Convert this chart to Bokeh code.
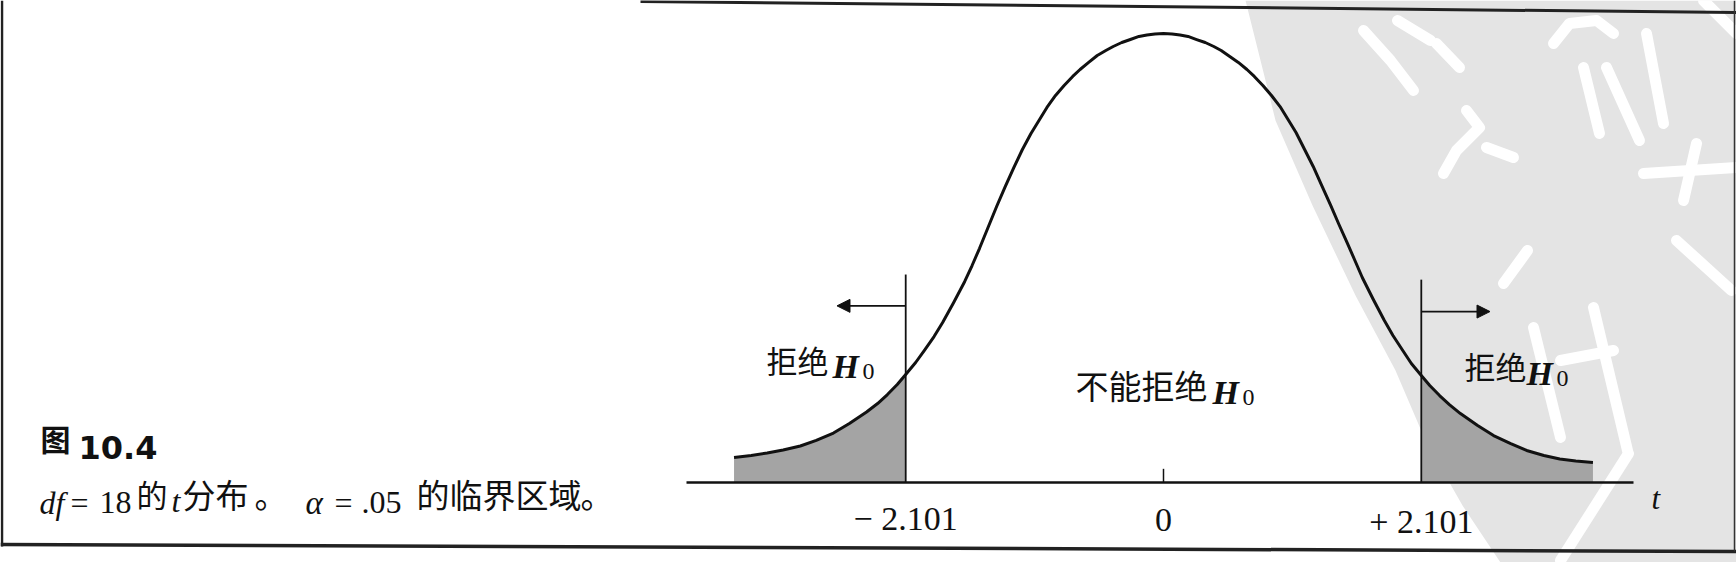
from bokeh.plotting import figure
from bokeh.models import Label, Arrow, NormalHead, Range1d
from bokeh.core.properties import value
from bokeh.embed import file_html
from bokeh.resources import INLINE

# ---- data (t distribution, df = 18) ----
t_left = [-3.50, -3.36, -3.23, -3.10, -2.96, -2.83, -2.69, -2.56, -2.42, -2.33,
          -2.25, -2.17, -2.101, -2.02, -1.95, -1.87, -1.80, -1.71, -1.62, -1.56,
          -1.50, -1.43, -1.36, -1.29, -1.22, -1.15, -1.08, -1.01, -0.95, -0.88,
          -0.81, -0.74, -0.68, -0.61, -0.54, -0.47, -0.41, -0.34, -0.27, -0.20,
          -0.135, -0.07, 0.0]
d_left = [0.0219, 0.0237, 0.0259, 0.0285, 0.0320, 0.0369, 0.0434, 0.0518, 0.0619, 0.0693,
          0.0772, 0.0860, 0.0948, 0.1053, 0.1158, 0.1281, 0.1404, 0.1580, 0.1764, 0.1904,
          0.2053, 0.2238, 0.2422, 0.2597, 0.2764, 0.2922, 0.3062, 0.3185, 0.3291, 0.3396,
          0.3484, 0.3563, 0.3624, 0.3686, 0.3747, 0.3791, 0.3826, 0.3861, 0.3887, 0.3914,
          0.3927, 0.3936, 0.3940]
t_right = [0.07, 0.135, 0.20, 0.27, 0.34, 0.41, 0.47, 0.54, 0.61, 0.68,
           0.74, 0.81, 0.88, 0.95, 1.01, 1.08, 1.15, 1.22, 1.29, 1.36,
           1.43, 1.50, 1.56, 1.62, 1.71, 1.80, 1.87, 1.95, 2.02, 2.101,
           2.17, 2.25, 2.33, 2.42, 2.56, 2.69, 2.83, 2.96, 3.10, 3.23,
           3.36, 3.50]
d_right = [0.3936, 0.3927, 0.3914, 0.3887, 0.3861, 0.3826, 0.3791, 0.3738, 0.3686, 0.3624,
           0.3563, 0.3484, 0.3396, 0.3299, 0.3194, 0.3071, 0.2922, 0.2773, 0.2606, 0.2439,
           0.2264, 0.2097, 0.1948, 0.1799, 0.1606, 0.1422, 0.1290, 0.1158, 0.1044, 0.0939,
           0.0851, 0.0763, 0.0684, 0.0605, 0.0500, 0.0412, 0.0342, 0.0281, 0.0237, 0.0206,
           0.0189, 0.0175]
critical_t = [-2.101, 2.101]
tick_values = [-2.101, 0.0, 2.101]
tick_labels = ["\u2212 2.101", "0", "+ 2.101"]

t_vals = t_left + t_right
density = d_left + d_right

# ---- layout ----
W, H = 1736, 562
PX_T = 122.7      # pixels per t unit
T0 = 1163.0       # page x of t = 0
AX_Y = 482.0      # page y of the axis
PX_D = 1139.6     # pixels per density unit
x0 = -T0 / PX_T
x1 = x0 + W / PX_T
y1 = AX_Y / PX_D
y0 = y1 - H / PX_D


def rx(px):
    return x0 + px / PX_T


def ry(py):
    return (AX_Y - py) / PX_D


SERIF = "Liberation Serif"
CJK = "Noto Sans CJK SC"
INK = "#111111"

p = figure(width=W, height=H, x_range=Range1d(x0, x1), y_range=Range1d(y0, y1),
           output_backend="svg", toolbar_location=None, min_border=0,
           x_axis_location=None, y_axis_location=None,
           background_fill_color="white", border_fill_color="white")
p.grid.visible = False
p.outline_line_color = None

# grey watermark area at the right of the scan, with white brush strokes
wm = [(1245, 0), (1275, 120), (1312, 205), (1355, 295), (1395, 370), (1425, 440),
      (1462, 505), (1500, 562), (1745, 562), (1745, 0)]
p.patch([rx(a) for a, b in wm], [ry(b) for a, b in wm], fill_color="#e4e4e4", line_color=None)
strokes = [
    [(1436, 43), (1459, 67)],
    [(1553, 43), (1569, 23), (1596, 20), (1613, 33)],
    [(1583, 67), (1599, 133)],
    [(1606, 67), (1639, 140)],
    [(1646, 33), (1663, 123)],
    [(1703, 0), (1736, 33)],
    [(1466, 110), (1479, 127), (1456, 150), (1443, 173)],
    [(1486, 147), (1513, 157)],
    [(1643, 173), (1736, 167)],
    [(1696, 143), (1683, 200)],
    [(1363, 30), (1390, 60), (1413, 90)],
    [(1397, 20), (1430, 40)],
    [(1503, 283), (1527, 250)],
    [(1533, 327), (1560, 437)],
    [(1593, 307), (1627, 450)],
    [(1560, 360), (1613, 350)],
    [(1676, 240), (1731, 290)],
    [(1628, 453), (1560, 560)],
]
p.multi_line([[rx(a) for a, b in s] for s in strokes], [[ry(b) for a, b in s] for s in strokes],
             line_color="white", line_width=11, line_cap="round", line_join="round")

# shaded rejection regions
lt = [(t, d) for t, d in zip(t_vals, density) if t <= critical_t[0]]
rt = [(t, d) for t, d in zip(t_vals, density) if t >= critical_t[1]]
p.patch([t for t, d in lt] + [critical_t[0], lt[0][0]],
        [d for t, d in lt] + [0, 0], fill_color="#a4a4a4", line_color=None)
p.patch([critical_t[1]] + [t for t, d in rt] + [rt[-1][0]],
        [0] + [d for t, d in rt] + [0], fill_color="#a4a4a4", line_color=None)

# axis line and zero tick
p.segment(x0=[rx(686)], y0=[0], x1=[rx(1633)], y1=[0], line_color=INK, line_width=2.5)
p.segment(x0=[0], y0=[0], x1=[0], y1=[0.012], line_color=INK, line_width=1.5)

# critical value lines
p.segment(x0=critical_t, y0=[0, 0], x1=critical_t, y1=[0.1825, 0.178],
          line_color=INK, line_width=1.8)

# curve
p.line(t_vals, density, line_color=INK, line_width=3, line_join="round")

# arrows
for c, d, h in zip(critical_t, [-1, 1], [0.155, 0.150]):
    p.add_layout(Arrow(end=NormalHead(size=13, fill_color=INK, line_color=INK),
                       x_start=c, y_start=h, x_end=c + d * 0.56, y_end=h,
                       line_color=INK, line_width=1.8))

# tick labels
p.text(x=tick_values, y=[ry(518), ry(519), ry(521)], text=tick_labels,
       text_font=value(SERIF), text_font_size="34px", text_align="center",
       text_baseline="alphabetic", text_color=INK)


def lab(x, y, text, font, size, style="normal", baseline="alphabetic"):
    p.add_layout(Label(x=rx(x), y=ry(y), text=text, text_font=font, text_font_size=size,
                       text_font_style=style, text_baseline=baseline, text_align="left",
                       text_color=INK))


lab(1651, 498, "t", SERIF, "31px", "italic")

# region labels
lab(766, 359, "拒绝", CJK, "31px", baseline="middle")
lab(832, 366, "H", SERIF, "34px", "bold italic")
lab(862, 371, "0", SERIF, "24px")

lab(1075, 384, "不能拒绝", CJK, "33px", baseline="middle")
lab(1212, 392, "H", SERIF, "34px", "bold italic")
lab(1242, 397, "0", SERIF, "24px")

lab(1464, 365, "拒绝", CJK, "31px", baseline="middle")
lab(1526, 373, "H", SERIF, "34px", "bold italic")
lab(1556, 378, "0", SERIF, "24px")

# caption
lab(40, 437, "图", CJK, "30px", "bold", baseline="middle")
lab(78, 447, "10.4", "DejaVu Sans", "32px", "bold")

lab(39, 502, "df", SERIF, "32px", "italic")
lab(70, 502, "=", SERIF, "32px")
lab(99, 502, "18", SERIF, "32px")
lab(136, 493, "的", CJK, "31px", baseline="middle")
lab(171, 500, "t", SERIF, "32px", "italic")
lab(182, 493, "分布", CJK, "33px", baseline="middle")
lab(254, 493, "。", CJK, "33px", baseline="middle")
lab(305, 502, "α", SERIF, "33px", "italic")
lab(334, 502, "=", SERIF, "32px")
lab(361, 502, ".05", SERIF, "32px")
lab(416, 493, "的临界区域", CJK, "33px", baseline="middle")
lab(580, 493, "。", CJK, "33px", baseline="middle")

# frame of the scanned figure
p.segment(x0=[rx(1.5)], y0=[ry(0)], x1=[rx(1.5)], y1=[ry(546)], line_color="#222222", line_width=2.5)
p.segment(x0=[rx(0)], y0=[ry(544)], x1=[rx(1736)], y1=[ry(551)], line_color="#222222", line_width=3.5)
p.segment(x0=[rx(640)], y0=[ry(1)], x1=[rx(1736)], y1=[ry(12)], line_color="#222222", line_width=3)
p.segment(x0=[rx(1734)], y0=[ry(0)], x1=[rx(1734)], y1=[ry(551)], line_color="#333333", line_width=1.5)

open("out.html", "w").write(file_html(p, INLINE))
